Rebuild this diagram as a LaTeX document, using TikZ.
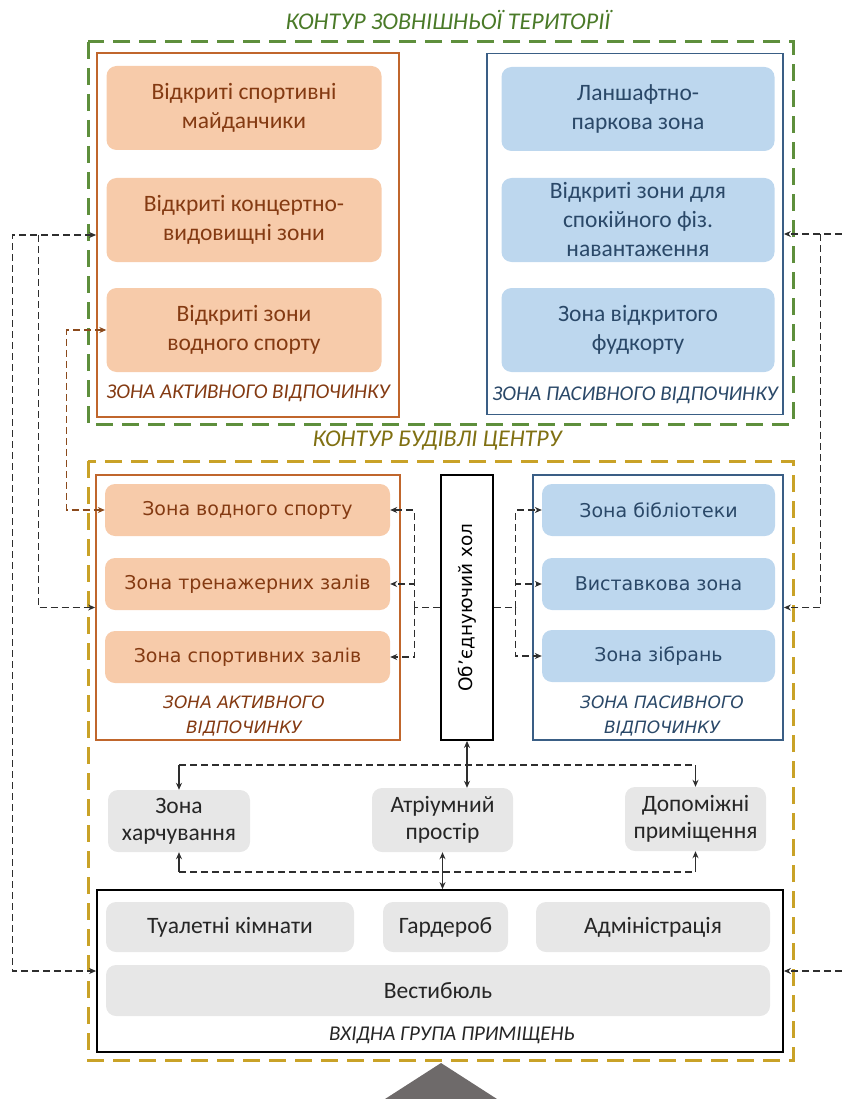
\documentclass[tikz,border=0pt]{standalone}
\usepackage{fontspec}
\setmainfont{Carlito}
\newfontfamily\dejavu{DejaVu Sans}
\usetikzlibrary{arrows.meta,positioning,calc}
\definecolor{zoneGreen}{HTML}{5E8F3C}
\definecolor{titleGreen}{HTML}{4A7A28}
\definecolor{zoneGold}{HTML}{C9A227}
\definecolor{titleOlive}{HTML}{807012}
\definecolor{activeLine}{HTML}{C0662C}
\definecolor{activeFill}{HTML}{F7CBAA}
\definecolor{activeText}{HTML}{843A12}
\definecolor{passiveLine}{HTML}{3A5E85}
\definecolor{passiveFill}{HTML}{BDD7EE}
\definecolor{passiveText}{HTML}{2A4868}
\definecolor{serviceFill}{HTML}{E7E7E7}
\definecolor{linkBrown}{HTML}{8B4A1C}
\definecolor{linkGrey}{HTML}{2E2E2E}
\definecolor{entryGrey}{HTML}{6E6A6A}

\begin{document}
\begin{tikzpicture}[
  x=1pt, y=-1pt,
  >={Stealth[length=7pt,width=6pt]},
  contour/.style={line width=3pt, dash pattern=on 17pt off 9pt},
  frame/.style={draw, line width=1.8pt, inner sep=0pt},
  actcard/.style={
    fill=activeFill,
    rounded corners=10pt,
    text=activeText,
    align=center,
    inner sep=0pt,
    font=\fontsize{23.5}{29}\selectfont
  },
  passcard/.style={actcard, fill=passiveFill, text=passiveText},
  actroom/.style={actcard, font=\dejavu\fontsize{19}{20}\selectfont},
  passroom/.style={passcard, font=\dejavu\fontsize{19}{20}\selectfont},
  servcard/.style={
    fill=serviceFill,
    rounded corners=10pt,
    text=black!85,
    align=center,
    inner sep=0pt,
    font=\fontsize{23.5}{27}\selectfont
  },
  zonelabel/.style={font=\itshape\fontsize{21}{24}\selectfont},
  roomlabel/.style={align=center, font=\dejavu\itshape\fontsize{17}{25}\selectfont},
  link/.style={draw=linkGrey, line width=1.1pt, dash pattern=on 7pt off 4pt},
  stem/.style={draw=linkGrey, line width=1.1pt}
]
  \useasboundingbox (0,0) rectangle (842,1099);

  % Outer territory contour
  \node[font=\itshape\fontsize{24}{26}\selectfont, text=titleGreen] (ttl1) at (448,20) {КОНТУР ЗОВНІШНЬОЇ ТЕРИТОРІЇ};
  \draw[contour, draw=zoneGreen] (88,42) rectangle (793,424);

  % Outer active zone
  \node[frame, draw=activeLine, minimum width=302pt, minimum height=364pt] (outact) at (248,235) {};
  \node[actcard, minimum width=275pt, minimum height=84pt] (oa1) at (244,108) {Відкриті спортивні\\майданчики};
  \node[actcard, minimum width=275pt, minimum height=84pt] (oa2) at (244,220) {Відкриті концертно-\\видовищні зони};
  \node[actcard, minimum width=275pt, minimum height=84pt] (oa3) at (244,330) {Відкриті зони\\водного спорту};
  \node[zonelabel, text=activeText] (oalbl) at (248,393) {ЗОНА АКТИВНОГО ВІДПОЧИНКУ};

  % Outer passive zone
  \node[frame, draw=passiveLine, minimum width=296pt, minimum height=361pt] (outpass) at (635,234) {};
  \node[passcard, minimum width=273pt, minimum height=84pt] (op1) at (638,109) {Ланшафтно-\\паркова зона};
  \node[passcard, minimum width=273pt, minimum height=84pt] (op2) at (638,220) {Відкриті зони для\\спокійного фіз.\\навантаження};
  \node[passcard, minimum width=273pt, minimum height=84pt] (op3) at (638,330) {Зона відкритого\\фудкорту};
  \node[zonelabel, text=passiveText] (oplbl) at (635,395) {ЗОНА ПАСИВНОГО ВІДПОЧИНКУ};

  % Building contour
  \node[font=\itshape\fontsize{24}{26}\selectfont, text=titleOlive] (ttl2) at (437,441) {КОНТУР БУДІВЛІ ЦЕНТРУ};
  \draw[contour, draw=zoneGold] (88,461) rectangle (793,1060);

  % Indoor active zone
  \node[frame, draw=activeLine, minimum width=304pt, minimum height=265pt] (inact) at (248,607.5) {};
  \node[actroom, minimum width=285pt, minimum height=52pt] (ia1) at (247.5,510) {Зона водного спорту};
  \node[actroom, minimum width=285pt, minimum height=52pt] (ia2) at (247.5,584) {Зона тренажерних залів};
  \node[actroom, minimum width=285pt, minimum height=52pt] (ia3) at (247.5,657) {Зона спортивних залів};
  \node[roomlabel, text=activeText] (ialbl) at (244,716) {ЗОНА АКТИВНОГО\\ВІДПОЧИНКУ};

  % Connecting hall
  \node[frame, draw=black, minimum width=52pt, minimum height=265pt] (hall) at (467,607.5) {};
  \node[rotate=90, font=\dejavu\fontsize{18.5}{20}\selectfont] (halltxt) at (hall.center) {Об’єднуючий хол};

  % Indoor passive zone
  \node[frame, draw=passiveLine, minimum width=250pt, minimum height=265pt] (inpass) at (658,607.5) {};
  \node[passroom, minimum width=233pt, minimum height=52pt] (ip1) at (658.5,510) {Зона бібліотеки};
  \node[passroom, minimum width=233pt, minimum height=52pt] (ip2) at (658.5,584) {Виставкова зона};
  \node[passroom, minimum width=233pt, minimum height=52pt] (ip3) at (658.5,656) {Зона зібрань};
  \node[roomlabel, text=passiveText] (iplbl) at (662,716) {ЗОНА ПАСИВНОГО\\ВІДПОЧИНКУ};

  % Service rooms
  \node[servcard, minimum width=142pt, minimum height=62pt] (food) at (179,821) {Зона\\харчування};
  \node[servcard, minimum width=141pt, minimum height=64pt] (atrium) at (442.5,820) {Атріумний\\простір};
  \node[servcard, minimum width=141pt, minimum height=64pt] (aux) at (695.5,819) {Допоміжні\\приміщення};

  % Entrance group
  \node[frame, draw=black, minimum width=686pt, minimum height=162pt] (entry) at (440,971) {};
  \node[servcard, minimum width=248pt, minimum height=50pt] (wc) at (230,927) {Туалетні кімнати};
  \node[servcard, minimum width=125pt, minimum height=50pt] (ward) at (445.5,927) {Гардероб};
  \node[servcard, minimum width=234pt, minimum height=50pt] (adm) at (653,927) {Адміністрація};
  \node[servcard, minimum width=664pt, minimum height=51pt] (vest) at (438,990.5) {Вестибюль};
  \node[zonelabel, text=black!85] (entlbl) at (452,1035) {ВХІДНА ГРУПА ПРИМІЩЕНЬ};

  % Entry arrow
  \fill[entryGrey] (441,1063) -- (497,1099) -- (385,1099) -- cycle;

  % Links on the left
  \draw[link, <->] (outact.west) -| ([xshift=-84pt]entry.west) -- (entry.west);
  \draw[link, ->] ([xshift=-58pt]outact.west) |- (inact.west);
  \draw[link, draw=linkBrown, <->, >={Stealth[length=7pt,width=6pt,fill=linkBrown]}] (oa3.west) -| ([xshift=-38pt]ia1.west) -- (ia1.west);

  % Links on the right
  \coordinate (rtop) at (842,234);
  \coordinate (rbot) at (842,971);
  \draw[link, ->] (rtop) -- (outpass.east);
  \draw[link, ->] ([xshift=37pt]outpass.east) |- (inpass.east);
  \draw[link, ->] (rbot) -- (entry.east);

  % Hall to zones
  \draw[link] (hall.west) -- ++(-26,0) coordinate (lhub);
  \draw[link] (hall.east) -- ++(22,0) coordinate (rhub);
  \foreach \r in {ia1,ia2,ia3} \draw[link, ->] (lhub) |- (\r.east);
  \foreach \r in {ip1,ip2,ip3} \draw[link, ->] (rhub) |- (\r.west);

  % Hall to service rooms
  \coordinate (topbus) at (467,765);
  \draw[stem, ->] (topbus) -- (hall.south);
  \draw[link] (food.north |- topbus) -- (aux.north |- topbus);
  \draw[stem, ->] (food.north |- topbus) -- (food.north);
  \draw[stem, ->] (topbus) -- (topbus |- atrium.north);
  \draw[stem, ->] (aux.north |- topbus) -- (aux.north);

  % Service rooms to entrance
  \coordinate (botbus) at (442.5,872);
  \draw[link] (food.south |- botbus) -- (aux.south |- botbus);
  \draw[stem, ->] (food.south |- botbus) -- (food.south);
  \draw[stem, ->] (aux.south |- botbus) -- (aux.south);
  \draw[stem, <->] (atrium.south) -- (atrium.south |- entry.north);

\end{tikzpicture}
\end{document}
